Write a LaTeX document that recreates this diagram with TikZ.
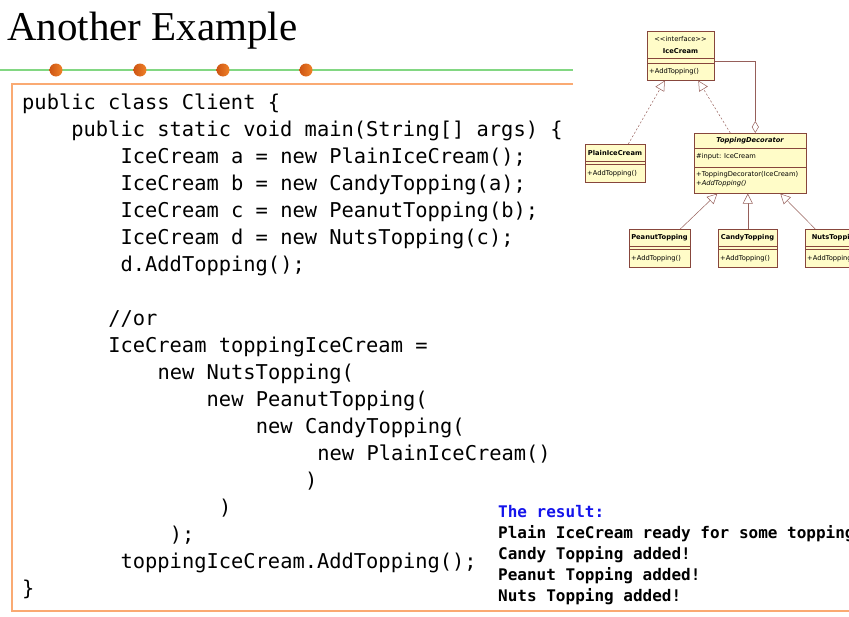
\documentclass[tikz,border=0pt]{standalone}
\usepackage{fontspec}
\setmainfont{Liberation Serif}
\newfontfamily\codefont{DejaVu Sans Mono}
\newfontfamily\umlfont{DejaVu Sans}
\usepackage{xcolor}
\usetikzlibrary{arrows.meta,calc,positioning}
\definecolor{slidegreen}{RGB}{130,215,130}
\definecolor{slideorange}{RGB}{250,170,115}
\definecolor{dotorange}{RGB}{240,130,40}
\definecolor{dotdark}{RGB}{205,85,20}
\definecolor{umlfill}{RGB}{255,252,200}
\definecolor{umlborder}{RGB}{135,70,60}
\definecolor{umlline}{RGB}{150,95,90}
\definecolor{resultblue}{RGB}{20,20,235}

\begin{document}
\begin{tikzpicture}[x=1pt, y=-1pt,
    codeline/.style={font={\codefont\fontsize{20.4}{24}\selectfont}, anchor=base west, inner sep=0pt},
    resultline/.style={font={\codefont\bfseries\fontsize{16}{20}\selectfont}, anchor=base west, inner sep=0pt},
    umlbox/.style={draw=umlborder, fill=umlfill, inner sep=0pt, line width=0.6pt, anchor=north west},
    umltext/.style={font={\umlfont\fontsize{6.7}{8}\selectfont}, inner sep=0pt},
    umlname/.style={font={\umlfont\bfseries\fontsize{6.7}{8}\selectfont}, inner sep=0pt},
    umlitalic/.style={font={\umlfont\itshape\fontsize{6.7}{8}\selectfont}, inner sep=0pt},
    realize/.style={draw=umlline, line width=0.5pt, dash pattern=on 2pt off 2pt, -{Triangle[length=10pt, width=10pt, fill=white]}},
    inherit/.style={draw=umlline, line width=0.5pt, -{Triangle[length=10pt, width=10pt, fill=white]}},
    aggr/.style={draw=umlline, line width=0.5pt, -{Diamond[length=12pt, width=7pt, fill=white]}}]
    \path[use as bounding box, clip] (0,0) rectangle (849,616);

    % Slide title and rule
    \node[font=\fontsize{41}{41}\selectfont, anchor=base west, inner sep=0pt] (title) at (7,40) {Another Example};
    \draw[slidegreen, line width=1.6pt] (0,70) -- (573,70);
    \foreach \x in {56,140,223,306}
        \shade[left color=dotdark, right color=dotorange] (\x,70) circle (6.5pt);
    \draw[slideorange, line width=1.6pt] (573,84) -- (12,84) -- (12,611) -- (849,611);

    % Client code
    \foreach \n/\ind/\txt in {0/0/{public class Client \{},
            1/4/{public static void main(String[] args) \{},
            2/8/{IceCream a = new PlainIceCream();},
            3/8/{IceCream b = new CandyTopping(a);},
            4/8/{IceCream c = new PeanutTopping(b);},
            5/8/{IceCream d = new NutsTopping(c);},
            6/8/{d.AddTopping();},
            8/7/{//or},
            9/7/{IceCream toppingIceCream =},
            10/11/{new NutsTopping(},
            11/15/{new PeanutTopping(},
            12/19/{new CandyTopping(},
            13/24/{new PlainIceCream()},
            14/23/{)},
            15/16/{)},
            16/12/{);},
            17/8/{toppingIceCream.AddTopping();},
            18/0/{\}}}
        \node[codeline] (code\n) at ({22+\ind*12.3},{109+\n*27}) {\txt};

    % Program output
    \node[resultline, text=resultblue] (res0) at (498,517) {The result:};
    \foreach \n/\txt in {1/{Plain IceCream ready for some topping},
            2/{Candy Topping added!}, 3/{Peanut Topping added!}, 4/{Nuts Topping added!}}
        \node[resultline] (res\n) at (498,{517+\n*21.2}) {\txt};

    % Class diagram: interface
    \node[umlbox, minimum width=67pt, minimum height=49pt] (ice) at (647,31) {};
    \draw[umlborder, line width=0.6pt] (647,58) -- (714,58) (647,63) -- (714,63);
    \node[umltext] (icestereo) at (680.5,39) {<<interface>>};
    \node[umlname] (icename) at (680.5,51) {IceCream};
    \node[umltext, anchor=west] (iceop) at (649,72) {+AddTopping()};

    % Class diagram: plain ice cream
    \node[umlbox, minimum width=60pt, minimum height=38pt] (plain) at (585,144) {};
    \draw[umlborder, line width=0.6pt] (585,161) -- (645,161) (585,164) -- (645,164);
    \node[umlname] (plainname) at (615,153) {PlainIceCream};
    \node[umltext, anchor=west] (plainop) at (587,174) {+AddTopping()};

    % Class diagram: decorator
    \node[umlbox, minimum width=112pt, minimum height=60pt] (deco) at (694,133) {};
    \draw[umlborder, line width=0.6pt] (694,148) -- (806,148) (694,167) -- (806,167);
    \node[font={\umlfont\bfseries\itshape\fontsize{6.7}{8}\selectfont}, inner sep=0pt] (deconame) at (750,141) {ToppingDecorator};
    \node[umltext, anchor=west] (decoattr) at (696,157) {\#input: IceCream};
    \node[umltext, anchor=west] (decoctor) at (696,174.5) {+ToppingDecorator(IceCream)};
    \node[umlitalic, anchor=west] (decoop) at (696,184) {+AddTopping()};

    % Class diagram: toppings
    \foreach \cls/\xx/\ww/\from/\to in {PeanutTopping/629/61/20.5/-33,
            CandyTopping/718/59/0/-2.5, NutsTopping/805/61/-20.5/30} {
        \node[umlbox, minimum width=\ww pt, minimum height=38pt] (\cls) at (\xx,229) {};
        \draw[umlborder, line width=0.6pt] (\xx,246) -- (\xx+\ww,246) (\xx,249) -- (\xx+\ww,249);
        \node[umlname] (\cls-name) at (\xx+\ww/2,238) {\cls};
        \node[umltext, anchor=west] (\cls-op) at (\xx+2,259) {+AddTopping()};
        \draw[inherit] ([xshift=\from pt]\cls.north) -- ([xshift=\to pt]deco.south);
    }

    % Relations
    \draw[realize] ([xshift=13pt]plain.north) -- ([xshift=-16pt]ice.south);
    \draw[realize] ([xshift=-20pt]deco.north) -- ([xshift=17.5pt]ice.south);
    \draw[aggr] ([yshift=-5.5pt]ice.east) -| ([xshift=5pt]deco.north);
\end{tikzpicture}
\end{document}
